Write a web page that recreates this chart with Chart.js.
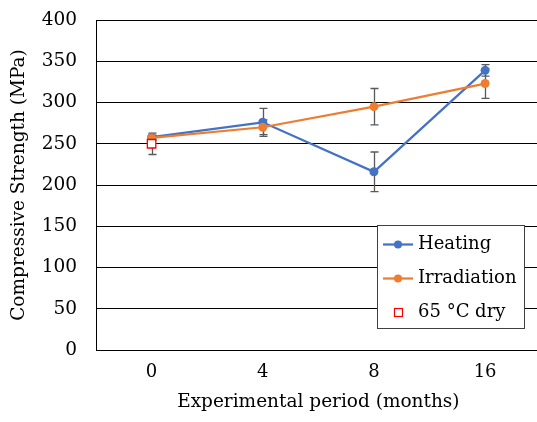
<!DOCTYPE html>
<html lang="en">
<head>
    <meta charset="UTF-8" />
    <title>Compressive Strength</title>
    <script src="https://cdn.jsdelivr.net/npm/chart.js"></script>
    <style>
        html, body { margin: 0; padding: 0; background: #fff; overflow: hidden; }
        .wrap { width: 548px; height: 422px; }
    </style>
</head>
<body>
    <div class="wrap"><canvas id="strengthChart"></canvas></div>
    <script>
    // Valores (MPa) y desviaciones
    const periods = ['0', '4', '8', '16'];
    const heating = [258, 276, 216, 339];
    const heatingErr = [2, 17, 24, 7];
    const irradiation = [257, 270, 295, 323];
    const irradiationErr = [3, 9, 22, 18];
    const dry = [250, null, null, null];
    const dryErr = [13, null, null, null];

    const serif = 'DejaVu Serif';
    const blue = '#4472C4';
    const orange = '#ED7D31';

    // Barras de error detrás de los puntos
    const errorBars = {
        id: 'errorBars',
        beforeDatasetsDraw(chart) {
            const { ctx, scales: { x, y } } = chart;
            ctx.save();
            ctx.strokeStyle = '#595959';
            ctx.lineWidth = 1.3;
            chart.data.datasets.forEach((ds, di) => {
                if (!ds.errors || !chart.isDatasetVisible(di)) return;
                ds.data.forEach((v, i) => {
                    const e = ds.errors[i];
                    if (v == null || e == null) return;
                    const px = Math.round(x.getPixelForValue(i)) + 0.5;
                    const top = y.getPixelForValue(v + e);
                    const bot = y.getPixelForValue(v - e);
                    ctx.beginPath();
                    ctx.moveTo(px, top); ctx.lineTo(px, bot);
                    ctx.moveTo(px - 4, top); ctx.lineTo(px + 4, top);
                    ctx.moveTo(px - 4, bot); ctx.lineTo(px + 4, bot);
                    ctx.stroke();
                });
            });
            ctx.restore();
        }
    };

    // Leyenda dentro del área del gráfico
    const boxLegend = {
        id: 'boxLegend',
        afterDraw(chart) {
            const { ctx } = chart;
            const bx = 377.5, by = 225.5, bw = 147, bh = 103;
            ctx.save();
            ctx.fillStyle = '#fff';
            ctx.fillRect(bx, by, bw, bh);
            ctx.strokeStyle = '#404040';
            ctx.lineWidth = 1;
            ctx.strokeRect(bx, by, bw, bh);
            ctx.font = '18px "' + serif + '"';
            ctx.textBaseline = 'middle';
            ctx.fillStyle = '#000';
            const items = [chart.data.datasets[2], chart.data.datasets[1], chart.data.datasets[0]];
            items.forEach((ds, k) => {
                const cy = by + 19 + k * 34;
                if (ds.showLine !== false) {
                    ctx.strokeStyle = ds.borderColor;
                    ctx.lineWidth = 2.25;
                    ctx.beginPath();
                    ctx.moveTo(383, cy); ctx.lineTo(413, cy);
                    ctx.stroke();
                    ctx.fillStyle = ds.borderColor;
                    ctx.beginPath();
                    ctx.arc(398, cy, 4, 0, Math.PI * 2);
                    ctx.fill();
                } else {
                    ctx.fillStyle = '#fff';
                    ctx.strokeStyle = ds.borderColor;
                    ctx.lineWidth = 1.2;
                    ctx.fillRect(394.5, cy - 4, 8, 8);
                    ctx.strokeRect(394.5, cy - 4, 8, 8);
                }
                ctx.fillStyle = '#000';
                ctx.fillText(ds.label, 418, cy);
            });
            ctx.restore();
        }
    };

    new Chart(document.getElementById('strengthChart'), {
        type: 'line',
        data: {
            labels: periods,
            datasets: [
                {
                    label: '65 °C dry',
                    data: dry,
                    errors: dryErr,
                    showLine: false,
                    pointStyle: 'rect',
                    pointRadius: 6,
                    pointBorderWidth: 1.3,
                    borderColor: '#FF0000',
                    backgroundColor: '#fff',
                    order: 0
                },
                {
                    label: 'Irradiation',
                    data: irradiation,
                    errors: irradiationErr,
                    borderColor: orange,
                    backgroundColor: orange,
                    borderWidth: 2.25,
                    pointRadius: 4.5,
                    pointBorderWidth: 0,
                    tension: 0,
                    order: 1
                },
                {
                    label: 'Heating',
                    data: heating,
                    errors: heatingErr,
                    borderColor: blue,
                    backgroundColor: blue,
                    borderWidth: 2.25,
                    pointRadius: 4.5,
                    pointBorderWidth: 0,
                    tension: 0,
                    order: 2
                }
            ]
        },
        options: {
            responsive: true,
            maintainAspectRatio: false,
            animation: false,
            layout: { padding: { top: 20, right: 0, bottom: 9, left: 0 } },
            plugins: {
                legend: { display: false },
                tooltip: { enabled: false }
            },
            scales: {
                x: {
                    type: 'category',
                    offset: true,
                    grid: { drawOnChartArea: false, drawTicks: true, tickLength: 12, tickColor: 'rgba(0,0,0,0)' },
                    border: { display: true, color: '#000', width: 1 },
                    ticks: { color: '#000', font: { family: serif, size: 18 }, padding: 0 },
                    title: {
                        display: true,
                        text: 'Experimental period (months)',
                        color: '#000',
                        font: { family: serif, size: 18.5 },
                        padding: 0
                    },
                    afterFit(s) { s.height = 63; }
                },
                y: {
                    min: 0,
                    max: 400,
                    grid: { color: '#000', lineWidth: 1, drawTicks: true, tickLength: 19, tickColor: 'rgba(0,0,0,0)' },
                    border: { display: true, color: '#000', width: 1 },
                    ticks: { stepSize: 50, color: '#000', font: { family: serif, size: 18.5 }, padding: 0 },
                    title: {
                        display: true,
                        text: 'Compressive Strength (MPa)',
                        color: '#000',
                        font: { family: serif, size: 18.5 },
                        padding: { top: 8, bottom: 0 }
                    },
                    afterFit(s) { s.width = 96; }
                }
            }
        },
        plugins: [errorBars, boxLegend]
    });
    </script>
</body>
</html>
